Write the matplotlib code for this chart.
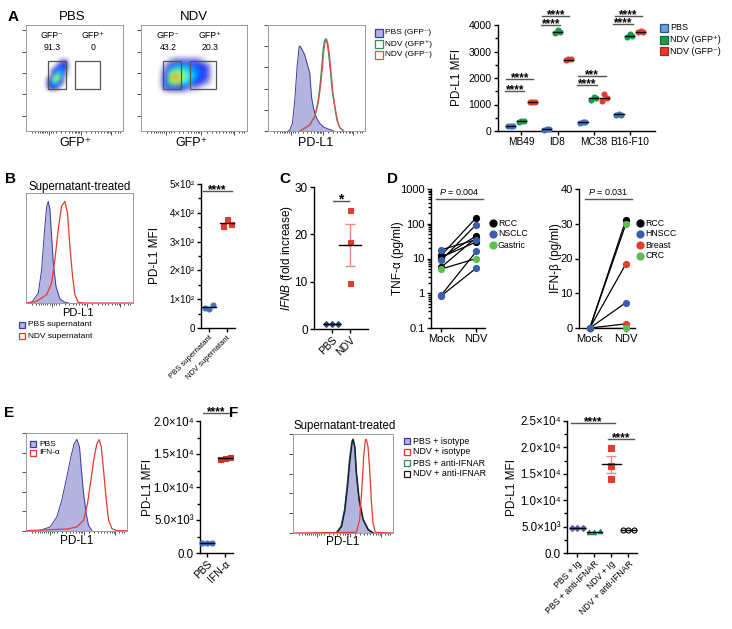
import numpy as np
import matplotlib
matplotlib.use('Agg')
import matplotlib.pyplot as plt
from matplotlib.patches import Rectangle
from matplotlib.colors import Normalize
from matplotlib.ticker import FixedLocator, MultipleLocator, NullFormatter, LogLocator

plt.rcParams['font.family'] = ['Liberation Sans', 'DejaVu Sans']
plt.rcParams['mathtext.fontset'] = 'custom'
plt.rcParams['mathtext.rm'] = 'Liberation Sans'
plt.rcParams['mathtext.it'] = 'Liberation Sans:italic'

# ======================= DATA =======================
# A: flow dot-plot densities (rows bottom -> top)
pbs_flow_density = [
    [0, 0, 0, 0, 0, 0, 0],
    [0, 1, 1.5, 1, 0, 0, 0],
    [0, 1.5, 3.5, 3, 1, 0, 0],
    [0, 1, 4.5, 6.5, 2.5, 0, 0],
    [0, 0, 2.5, 4.5, 3, 0.5, 0],
    [0, 0, 1, 2.5, 2.5, 1, 0],
    [0, 0, 0, 1, 2, 1.5, 0],
    [0, 0, 0, 0, 1, 1, 0],
    [0, 0, 0, 0, 0, 0, 0],
]
ndv_flow_density = [
    [0, 0, 0, 0, 0, 0, 0, 0, 0, 0, 0, 0],
    [0, 1, 2, 2, 1.5, 1, 0.5, 0.5, 0, 0, 0, 0],
    [0, 2, 4.5, 6, 4.5, 3.5, 2.5, 1.5, 1, 0.5, 0, 0],
    [0, 2, 6, 8, 6, 4.5, 3.5, 2.5, 1.5, 1, 0, 0],
    [0, 1, 4, 5.5, 5, 4, 3, 2.5, 2, 1, 0, 0],
    [0, 0.5, 2, 3, 3, 3, 2.5, 2, 1.5, 1, 0, 0],
    [0, 0, 0.5, 1, 1, 1, 1, 1, 0.5, 0, 0, 0],
    [0, 0, 0, 0, 0, 0, 0, 0, 0, 0, 0, 0],
]
pbs_gate_labels = ['GFP\u207b', 'GFP\u207a']
pbs_gate_pct = ['91.3', '0']
ndv_gate_labels = ['GFP\u207b', 'GFP\u207a']
ndv_gate_pct = ['43.2', '20.3']

# A: histogram (x, y as fraction of axis)
a_pbs_x = [0.207, 0.224, 0.252, 0.276, 0.300, 0.321, 0.328, 0.345, 0.362, 0.379, 0.403,
           0.431, 0.448, 0.466, 0.483, 0.510, 0.534, 0.569, 0.603, 0.672]
a_pbs_y = [0.0, 0.009, 0.072, 0.292, 0.607, 0.796, 0.802, 0.780, 0.748, 0.717, 0.638,
           0.544, 0.324, 0.230, 0.167, 0.104, 0.072, 0.041, 0.025, 0.003]
a_ndvneg_x = [0.328, 0.362, 0.431, 0.483, 0.517, 0.541, 0.562, 0.576, 0.590, 0.603, 0.617,
              0.631, 0.648, 0.666, 0.690, 0.714, 0.741, 0.776]
a_ndvneg_y = [0.0, 0.016, 0.057, 0.135, 0.261, 0.418, 0.607, 0.764, 0.843, 0.865, 0.827,
              0.733, 0.575, 0.387, 0.230, 0.104, 0.031, 0.003]
a_ndvpos_x = [0.330, 0.362, 0.431, 0.483, 0.514, 0.536, 0.556, 0.570, 0.584, 0.596, 0.610,
              0.625, 0.643, 0.662, 0.688, 0.712, 0.740, 0.776]
a_ndvpos_y = [0.0, 0.016, 0.060, 0.140, 0.270, 0.430, 0.620, 0.780, 0.855, 0.870, 0.830,
              0.730, 0.570, 0.380, 0.225, 0.100, 0.030, 0.003]

# A: scatter
a_cells = ['MB49', 'ID8', 'MC38', 'B16-F10']
a_pbs = [[170, 185, 180], [50, 70, 60], [320, 340, 330], [610, 640, 620]]
a_gfp_pos = [[350, 380, 370], [3700, 3800, 3750], [1180, 1280, 1230], [3550, 3650, 3600]]
a_gfp_neg = [[1090, 1110, 1100], [2680, 2710, 2700], [1150, 1380, 1230], [3720, 3780, 3750]]
a_sig_low = [1500, 4000, 1740, 4040]
a_sig_high = [1970, 4350, 2080, 4350]
a_sig_low_txt = ['****', '****', '****', '****']
a_sig_high_txt = ['****', '****', '***', '****']

# B
b_hist_pbs_x = [0.0, 0.053, 0.115, 0.146, 0.171, 0.193, 0.208, 0.224, 0.239, 0.255, 0.280, 0.317, 0.363, 0.40]
b_hist_pbs_y = [0.0, 0.006, 0.091, 0.303, 0.636, 0.879, 0.924, 0.848, 0.606, 0.364, 0.152, 0.036, 0.006, 0.0]
b_hist_ndv_x = [0.0, 0.099, 0.193, 0.239, 0.270, 0.301, 0.332, 0.363, 0.388, 0.410, 0.435, 0.457, 0.488, 0.534, 1.0]
b_hist_ndv_y = [0.0, 0.015, 0.076, 0.182, 0.394, 0.667, 0.879, 0.924, 0.818, 0.515, 0.242, 0.076, 0.006, 0.0, 0.0]
b_groups = ['PBS supernatant', 'NDV supernatant']
b_pbs = [70, 65, 80]
b_ndv = [378, 355, 360]

# C
c_groups = ['PBS', 'NDV']
c_pbs = [1.0, 1.0, 1.0]
c_ndv = [25.2, 18.3, 9.8]

# D
tnf_type = ['RCC', 'RCC', 'RCC', 'RCC', 'NSCLC', 'NSCLC', 'NSCLC', 'NSCLC', 'Gastric']
tnf_mock = [12.5, 10.5, 5.7, 11.0, 18.0, 9.0, 0.9, 0.85, 5.0]
tnf_ndv = [150, 45, 40, 30, 35, 95, 16, 5.3, 10]
ifnb_type = ['RCC', 'CRC', 'Breast', 'Breast', 'CRC', 'HNSCC']
ifnb_mock = [0, 0, 0, 0, 0, 0]
ifnb_ndv = [31.2, 30.0, 18.5, 1.2, 0.0, 7.3]

# E
e_hist_pbs_x = [0.139, 0.238, 0.305, 0.354, 0.404, 0.444, 0.477, 0.503, 0.530, 0.546, 0.570, 0.596, 0.619, 0.652]
e_hist_pbs_y = [0.007, 0.041, 0.143, 0.313, 0.551, 0.755, 0.891, 0.935, 0.857, 0.653, 0.381, 0.177, 0.058, 0.007]
e_hist_ifn_x = [0.0, 0.238, 0.404, 0.503, 0.570, 0.609, 0.642, 0.675, 0.702, 0.725, 0.745, 0.768, 0.795, 0.818, 0.851, 0.901, 1.0]
e_hist_ifn_y = [0.003, 0.014, 0.020, 0.041, 0.109, 0.279, 0.517, 0.755, 0.891, 0.932, 0.857, 0.619, 0.313, 0.109, 0.024, 0.003, 0.003]
e_groups = ['PBS', 'IFN-\u03b1']
e_pbs = [1450, 1500, 1550]
e_ifn = [14200, 14400, 14600]

# F
f_hist_iso_x = [0.433, 0.483, 0.517, 0.543, 0.567, 0.590, 0.600, 0.617, 0.633, 0.660, 0.700, 0.750, 0.800]
f_hist_iso_y = [0.0, 0.067, 0.235, 0.470, 0.738, 0.923, 0.946, 0.872, 0.604, 0.336, 0.134, 0.034, 0.0]
f_hist_ndviso_x = [0.0, 0.633, 0.667, 0.690, 0.707, 0.723, 0.733, 0.750, 0.767, 0.783, 0.800, 0.823, 1.0]
f_hist_ndviso_y = [0.0, 0.007, 0.134, 0.470, 0.772, 0.940, 0.946, 0.872, 0.638, 0.336, 0.101, 0.007, 0.0]
f_hist_pbsanti_x = [0.430, 0.480, 0.515, 0.541, 0.565, 0.588, 0.598, 0.615, 0.632, 0.660, 0.700, 0.750, 0.800]
f_hist_pbsanti_y = [0.0, 0.070, 0.240, 0.480, 0.745, 0.925, 0.948, 0.870, 0.600, 0.330, 0.130, 0.032, 0.0]
f_hist_ndvanti_x = [0.436, 0.486, 0.519, 0.545, 0.569, 0.592, 0.602, 0.619, 0.635, 0.662, 0.702, 0.752, 0.802]
f_hist_ndvanti_y = [0.0, 0.066, 0.232, 0.466, 0.735, 0.920, 0.944, 0.870, 0.606, 0.340, 0.138, 0.036, 0.0]
f_groups = ['PBS + Ig', 'PBS + anti-IFNAR', 'NDV + Ig', 'NDV + anti-IFNAR']
f_pbs_ig = [4700, 4750, 4800]
f_pbs_anti = [4000, 4050, 4100]
f_ndv_ig = [19800, 16500, 14000]
f_ndv_anti = [4400, 4420, 4450]

# ======================= STYLE =======================
W, H = 732, 629
fig = plt.figure(figsize=(W / 100, H / 100), dpi=100)
fig.patch.set_facecolor('white')

BLUE = '#3d74c0'
LBLUE = '#6c9fdc'
GREEN = '#1f9a4c'
RED = '#e53b2e'
HFILL = '#b4b4e0'
HEDGE = '#3c3c9c'
GRAYSP = '#9a9a9a'
DBLUE = '#3a5dae'
DGREEN = '#5cbf4f'


def px_axes(x0, y0, x1, y1, **kw):
    return fig.add_axes([x0 / W, 1 - y1 / H, (x1 - x0) / W, (y1 - y0) / H], **kw)


ov = fig.add_axes([0, 0, 1, 1], zorder=20)
ov.set_xlim(0, W)
ov.set_ylim(H, 0)
ov.axis('off')


def T(x, y, s, **kw):
    kw.setdefault('ha', 'center')
    kw.setdefault('va', 'center')
    ov.text(x, y, s, **kw)


def sq(x, y, fc, ec, ms=5.5, marker='s'):
    ov.plot([x], [y], marker=marker, ms=ms, mfc=fc, mec=ec, mew=0.9, ls='none')


def frame_gray(ax, xmaj, xmin, ymaj):
    for s in ax.spines.values():
        s.set_color(GRAYSP)
        s.set_linewidth(0.7)
    ax.xaxis.set_major_locator(FixedLocator(xmaj))
    ax.xaxis.set_minor_locator(FixedLocator(xmin))
    ax.yaxis.set_major_locator(FixedLocator(ymaj))
    ax.tick_params(which='both', direction='out', color='#333333', width=0.6,
                   labelbottom=False, labelleft=False)
    ax.tick_params(which='major', length=2.8)
    ax.tick_params(which='minor', length=1.6)


FLOW_XMAJ = [24, 57, 88]
FLOW_XMIN = [6, 9, 12, 14, 16, 18, 20, 22, 26, 28, 31, 36, 40, 44, 47, 50, 52, 54, 55,
             62, 67, 71, 74, 77, 80, 83, 85, 87, 92, 95, 97]
HIST_XMAJ = [0.24, 0.57, 0.88]
HIST_XMIN = [x / 100 for x in FLOW_XMIN]


def prism(ax, fs=8):
    ax.spines['top'].set_visible(False)
    ax.spines['right'].set_visible(False)
    for s in ('left', 'bottom'):
        ax.spines[s].set_linewidth(1.0)
    ax.tick_params(which='both', direction='out', width=1.0, labelsize=fs, pad=1.5)
    ax.tick_params(which='major', length=3)
    ax.tick_params(which='minor', length=2)
    ax.patch.set_alpha(0)


def triplet(ax, x, vals, color, marker='o', offs=(-0.2, 0, 0.2), ms=3.6, mfc=None,
            halfw=0.35, sem=False, ecolor=None):
    if sem:
        m = np.mean(vals)
        s = np.std(vals, ddof=1) / np.sqrt(len(vals))
        ax.errorbar([x], [m], yerr=[s], color=ecolor, capsize=3.5, lw=1.0, capthick=1.0,
                    zorder=2, clip_on=False)
    for o, v in zip(offs, vals):
        ax.plot([x + o], [v], marker=marker, ls='none', ms=ms,
                mfc=(color if mfc is None else mfc), mec=color, mew=0.8, zorder=3, clip_on=False)
    m = np.mean(vals)
    ax.plot([x - halfw, x + halfw], [m, m], color='k', lw=1.0, zorder=4, clip_on=False)


def sig(ax, x0, x1, y, txt, fs=9, off=-1.5, lw=1.0, color='#555555'):
    ax.plot([x0, x1], [y, y], color=color, lw=lw, clip_on=False)
    ax.annotate(txt, ((x0 + x1) / 2, y), xytext=(0, off), textcoords='offset points',
                ha='center', va='baseline', fontsize=fs, fontweight='bold',
                annotation_clip=False)


flow_cmap = plt.get_cmap('jet')
flow_norm = Normalize(0, 10)


def density_rgba(grid):
    d = np.array(grid, float)
    rgba = flow_cmap(flow_norm(d))
    rgba[..., 3] = np.clip(d / 1.5, 0, 1) * 0.95
    return rgba


# ======================= PANEL A =======================
T(13, 17, 'A', fontsize=11, fontweight='bold')
axP = px_axes(26, 25, 123, 131)
axN = px_axes(141, 25, 247, 131)
axP.imshow(density_rgba(pbs_flow_density), extent=(17.8, 47.2, 35, 71), origin='lower',
           interpolation='bicubic', interpolation_stage='rgba', aspect='auto')
axN.imshow(density_rgba(ndv_flow_density), extent=(15, 75, 33, 73), origin='lower',
           interpolation='bicubic', interpolation_stage='rgba', aspect='auto')
for ax in (axP, axN):
    ax.set_xlim(0, 100)
    ax.set_ylim(0, 100)
    frame_gray(ax, FLOW_XMAJ, FLOW_XMIN, [14, 35, 55, 75, 95])
axP.add_patch(Rectangle((22.7, 39.6), 18.3, 26.4, fill=False, ec='#555555', lw=0.9))
axP.add_patch(Rectangle((50.5, 39.6), 25.5, 26.4, fill=False, ec='#555555', lw=0.9))
axN.add_patch(Rectangle((20.8, 39.6), 16.9, 26.4, fill=False, ec='#555555', lw=0.9))
axN.add_patch(Rectangle((46.2, 39.6), 24.6, 26.4, fill=False, ec='#555555', lw=0.9))
T(72, 17, 'PBS', fontsize=9.5)
T(194, 17, 'NDV', fontsize=9.5)
for (x, lab, pct) in zip([52, 93], pbs_gate_labels, pbs_gate_pct):
    T(x, 35, lab, fontsize=6.3)
    T(x, 47, pct, fontsize=6.3)
for (x, lab, pct) in zip([168, 210], ndv_gate_labels, ndv_gate_pct):
    T(x, 35, lab, fontsize=6.3)
    T(x, 47, pct, fontsize=6.3)
T(76, 143, 'GFP\u207a', fontsize=9)
T(192, 143, 'GFP\u207a', fontsize=9)

axH = px_axes(268, 25, 365, 131)
axH.fill_between(a_pbs_x, a_pbs_y, color=HFILL, lw=0)
axH.plot(a_pbs_x, a_pbs_y, color=HEDGE, lw=0.7)
axH.plot(a_ndvpos_x, a_ndvpos_y, color='#2e8b57', lw=0.9)
axH.plot(a_ndvneg_x, a_ndvneg_y, color='#d9534f', lw=0.9)
axH.set_xlim(0, 1)
axH.set_ylim(0, 1)
frame_gray(axH, HIST_XMAJ, HIST_XMIN, [0, 0.2, 0.4, 0.6, 0.8, 1.0])
T(316, 143, 'PD-L1', fontsize=9)
sq(379, 33, HFILL, HEDGE)
sq(379, 44, 'white', '#2e8b57')
sq(379, 55, 'white', '#d9534f')
T(385, 33, 'PBS (GFP\u207b)', fontsize=6, ha='left')
T(385, 44, 'NDV (GFP\u207a)', fontsize=6, ha='left')
T(385, 55, 'NDV (GFP\u207b)', fontsize=6, ha='left')

axA = px_axes(498, 25, 655, 131)
prism(axA, fs=7.5)
axA.set_xlim(-0.65, 3.7)
axA.set_ylim(0, 4000)
axA.yaxis.set_major_locator(MultipleLocator(1000))
axA.yaxis.set_minor_locator(MultipleLocator(500))
axA.set_xticks(range(len(a_cells)))
axA.set_xticklabels(a_cells, fontsize=7.3)
for g in range(len(a_cells)):
    triplet(axA, g - 0.3, a_pbs[g], BLUE, offs=(-0.07, 0, 0.07), halfw=0.13)
    triplet(axA, g, a_gfp_pos[g], GREEN, offs=(-0.07, 0, 0.07), halfw=0.13)
    triplet(axA, g + 0.3, a_gfp_neg[g], RED, offs=(-0.07, 0, 0.07), halfw=0.13)
    sig(axA, g - 0.45, g + 0.08, a_sig_low[g], a_sig_low_txt[g], fs=8.5)
    sig(axA, g - 0.42, g + 0.33, a_sig_high[g], a_sig_high_txt[g], fs=8.5)
T(457, 78, 'PD-L1 MFI', fontsize=8.5, rotation=90)
sq(664, 28, LBLUE, '#2b4f86')
sq(664, 40, GREEN, '#146b34')
sq(664, 51, RED, '#a02820')
T(670, 28, 'PBS', fontsize=6.5, ha='left')
T(670, 40, 'NDV (GFP\u207a)', fontsize=6.5, ha='left')
T(670, 51, 'NDV (GFP\u207b)', fontsize=6.5, ha='left')

# ======================= PANEL B =======================
T(10, 179, 'B', fontsize=11, fontweight='bold')
T(80, 187, 'Supernatant-treated', fontsize=8.3)
axB1 = px_axes(26, 193, 133, 303)
axB1.fill_between(b_hist_pbs_x, b_hist_pbs_y, color=HFILL, lw=0)
axB1.plot(b_hist_pbs_x, b_hist_pbs_y, color=HEDGE, lw=0.7)
axB1.plot(b_hist_ndv_x, b_hist_ndv_y, color=RED, lw=0.9)
axB1.set_xlim(0, 1)
axB1.set_ylim(0, 1)
frame_gray(axB1, HIST_XMAJ, HIST_XMIN, [])
T(78, 313, 'PD-L1', fontsize=8)
sq(22, 325, HFILL, HEDGE, ms=5)
sq(22, 336, 'white', RED, ms=5)
T(28, 325, 'PBS supernatant', fontsize=6, ha='left')
T(28, 336, 'NDV supernatant', fontsize=6, ha='left')

axB2 = px_axes(201, 184, 235, 328)
prism(axB2, fs=7)
axB2.set_xlim(-0.45, 1.45)
axB2.set_ylim(0, 500)
axB2.yaxis.set_major_locator(FixedLocator([0, 100, 200, 300, 400, 500]))
axB2.set_yticklabels(['0', '1\u00d710\u00b2', '2\u00d710\u00b2', '3\u00d710\u00b2', '4\u00d710\u00b2', '5\u00d710\u00b2'])
axB2.yaxis.set_minor_locator(MultipleLocator(50))
axB2.set_xticks([0, 1])
axB2.set_xticklabels(b_groups, rotation=45, ha='right', rotation_mode='anchor', fontsize=5.5)
triplet(axB2, 0, b_pbs, BLUE, offs=(-0.22, 0, 0.22), halfw=0.38)
triplet(axB2, 1, b_ndv, RED, marker='s', offs=(0, -0.22, 0.22), halfw=0.38)
sig(axB2, -0.34, 1.28, 476, '****', fs=8.5)
T(155, 256, 'PD-L1 MFI', fontsize=8.5, rotation=90)

# ======================= PANEL C =======================
T(285, 179, 'C', fontsize=11, fontweight='bold')
axC = px_axes(314, 187, 368, 329)
prism(axC, fs=8.5)
axC.set_xlim(-1, 2)
axC.set_ylim(0, 30)
axC.yaxis.set_major_locator(MultipleLocator(10))
axC.set_xticks([0, 1])
axC.set_xticklabels(c_groups, rotation=45, ha='right', rotation_mode='anchor', fontsize=7.5)
triplet(axC, 0, c_pbs, '#2c4a7a', marker='D', ms=3, offs=(-0.32, 0, 0.32), halfw=0.45)
triplet(axC, 1, c_ndv, RED, marker='s', ms=3.6, offs=(0, 0, 0), halfw=0.6, sem=True, ecolor='#ec8a84')
sig(axC, 0.06, 0.94, 27, '*', fs=10)
T(287, 258, r'$\it{IFNB}$ (fold increase)', fontsize=8.5, rotation=90)

# ======================= PANEL D =======================
T(392, 179, 'D', fontsize=11, fontweight='bold')
dcol = {'RCC': 'black', 'NSCLC': DBLUE, 'HNSCC': DBLUE, 'Gastric': DGREEN, 'CRC': DGREEN, 'Breast': RED}
axD1 = px_axes(431, 189, 485, 328)
prism(axD1, fs=8)
axD1.set_yscale('log')
axD1.set_ylim(0.1, 1000)
axD1.set_xlim(-0.3, 1.25)
axD1.yaxis.set_major_locator(FixedLocator([0.1, 1, 10, 100, 1000]))
axD1.set_yticklabels(['0.1', '1', '10', '100', '1000'])
axD1.yaxis.set_minor_locator(LogLocator(base=10, subs=np.arange(2, 10)))
axD1.yaxis.set_minor_formatter(NullFormatter())
axD1.set_xticks([0, 1])
axD1.set_xticklabels(['Mock', 'NDV'], fontsize=8)
for t, m, n in zip(tnf_type, tnf_mock, tnf_ndv):
    axD1.plot([0, 1], [m, n], color='black', lw=0.9, zorder=2)
for t, m, n in zip(tnf_type, tnf_mock, tnf_ndv):
    axD1.plot([0, 1], [m, n], marker='o', ls='none', ms=4.2, color=dcol[t], zorder=3, clip_on=False)
axD1.plot([-0.156, 1.19], [515, 515], color='#555555', lw=1.0, clip_on=False)
axD1.annotate(r'$\it{P}$ = 0.004', (0.52, 515), xytext=(0, 1.5), textcoords='offset points',
              ha='center', va='bottom', fontsize=6.5, annotation_clip=False)
T(398, 258, 'TNF-\u03b1 (pg/ml)', fontsize=8.5, rotation=90)
for i, lab in enumerate(['RCC', 'NSCLC', 'Gastric']):
    sq(493, 223 + 11 * i, dcol[lab], dcol[lab], ms=5, marker='o')
    T(498, 223 + 11 * i, lab, fontsize=6.3, ha='left')

axD2 = px_axes(579, 189, 635, 328)
prism(axD2, fs=8)
axD2.set_ylim(0, 40)
axD2.set_xlim(-0.3, 1.25)
axD2.yaxis.set_major_locator(MultipleLocator(10))
axD2.set_xticks([0, 1])
axD2.set_xticklabels(['Mock', 'NDV'], fontsize=8)
for t, m, n in zip(ifnb_type, ifnb_mock, ifnb_ndv):
    axD2.plot([0, 1], [m, n], color='black', lw=0.9, zorder=2)
for t, m, n in zip(ifnb_type, ifnb_mock, ifnb_ndv):
    axD2.plot([0, 1], [m, n], marker='o', ls='none', ms=4.2, color=dcol[t], zorder=3, clip_on=False)
axD2.plot([-0.133, 1.17], [37.1, 37.1], color='#555555', lw=1.0, clip_on=False)
axD2.annotate(r'$\it{P}$ = 0.031', (0.5, 37.1), xytext=(0, 1.5), textcoords='offset points',
              ha='center', va='bottom', fontsize=6.5, annotation_clip=False)
T(556, 258, 'IFN-\u03b2 (pg/ml)', fontsize=8.5, rotation=90)
for i, lab in enumerate(['RCC', 'HNSCC', 'Breast', 'CRC']):
    sq(640, 223 + 11 * i, dcol[lab], dcol[lab], ms=5, marker='o')
    T(645, 223 + 11 * i, lab, fontsize=6.3, ha='left')

# ======================= PANEL E =======================
T(9, 413, 'E', fontsize=11, fontweight='bold')
axE1 = px_axes(26, 433, 127, 531)
axE1.fill_between(e_hist_pbs_x, e_hist_pbs_y, color=HFILL, lw=0)
axE1.plot(e_hist_pbs_x, e_hist_pbs_y, color=HEDGE, lw=0.7)
axE1.plot(e_hist_ifn_x, e_hist_ifn_y, color=RED, lw=0.9)
axE1.set_xlim(0, 1)
axE1.set_ylim(0, 1)
frame_gray(axE1, HIST_XMAJ, HIST_XMIN, [0, 0.2, 0.4, 0.6, 0.8, 1.0])
T(77, 541, 'PD-L1', fontsize=8.5)
sq(33, 444, HFILL, HEDGE, ms=5)
sq(33, 453, 'white', RED, ms=5)
T(39, 444, 'PBS', fontsize=6, ha='left')
T(39, 453, 'IFN-\u03b1', fontsize=6, ha='left')

axE2 = px_axes(200, 421, 233, 553)
prism(axE2, fs=8.3)
axE2.set_xlim(-0.4, 1.45)
axE2.set_ylim(0, 20000)
axE2.yaxis.set_major_locator(FixedLocator([0, 5000, 10000, 15000, 20000]))
axE2.set_yticklabels(['0.0', '5.0\u00d710\u00b3', '1.0\u00d710\u2074', '1.5\u00d710\u2074', '2.0\u00d710\u2074'])
axE2.yaxis.set_minor_locator(MultipleLocator(2500))
axE2.set_xticks([0, 1])
axE2.set_xticklabels(e_groups, rotation=45, ha='right', rotation_mode='anchor', fontsize=7.5)
triplet(axE2, 0, e_pbs, BLUE, offs=(-0.3, 0, 0.3), halfw=0.4)
triplet(axE2, 1, e_ifn, '#c8352b', marker='s', offs=(-0.3, 0, 0.3), halfw=0.4)
sig(axE2, -0.23, 1.29, 21200, '****', fs=8.5)
T(148, 487, 'PD-L1 MFI', fontsize=8.5, rotation=90)

# ======================= PANEL F =======================
T(234, 413, 'F', fontsize=11, fontweight='bold')
T(345, 426, 'Supernatant-treated', fontsize=8.3)
axF1 = px_axes(293, 434, 393, 533)
axF1.fill_between(f_hist_iso_x, f_hist_iso_y, color=HFILL, lw=0)
axF1.plot(f_hist_iso_x, f_hist_iso_y, color=HEDGE, lw=0.7)
axF1.plot(f_hist_pbsanti_x, f_hist_pbsanti_y, color='#2e8b57', lw=0.9)
axF1.plot(f_hist_ndvanti_x, f_hist_ndvanti_y, color='#1a1a2e', lw=1.0)
axF1.plot(f_hist_ndviso_x, f_hist_ndviso_y, color=RED, lw=0.9)
axF1.set_xlim(0, 1)
axF1.set_ylim(0, 1)
frame_gray(axF1, HIST_XMAJ, HIST_XMIN, [0, 0.2, 0.4, 0.6, 0.8, 1.0])
T(343, 542, 'PD-L1', fontsize=8.5)
leg_f = [('PBS + isotype', HFILL, HEDGE), ('NDV + isotype', 'white', RED),
         ('PBS + anti-IFNAR', 'white', '#2e8b57'), ('NDV + anti-IFNAR', 'white', '#1a1a1a')]
for i, (lab, fc, ec) in enumerate(leg_f):
    sq(407, 441 + 11 * i, fc, ec, ms=5)
    T(413, 441 + 11 * i, lab, fontsize=6.4, ha='left')

axF2 = px_axes(567, 421, 637, 553)
prism(axF2, fs=8.3)
axF2.set_xlim(-0.6, 3.5)
axF2.set_ylim(0, 25000)
axF2.yaxis.set_major_locator(FixedLocator([0, 5000, 10000, 15000, 20000, 25000]))
axF2.set_yticklabels(['0.0', '5.0\u00d710\u00b3', '1.0\u00d710\u2074', '1.5\u00d710\u2074',
                      '2.0\u00d710\u2074', '2.5\u00d710\u2074'])
axF2.yaxis.set_minor_locator(MultipleLocator(2500))
axF2.set_xticks([0, 1, 2, 3])
axF2.set_xticklabels(f_groups, rotation=45, ha='right', rotation_mode='anchor', fontsize=6.3)
triplet(axF2, 0, f_pbs_ig, '#5660a8', marker='D', ms=3, offs=(-0.33, 0, 0.33), halfw=0.45)
triplet(axF2, 1, f_pbs_anti, '#1f8a50', marker='^', ms=3.2, offs=(-0.33, 0, 0.33), halfw=0.45)
triplet(axF2, 2, f_ndv_ig, RED, marker='s', ms=3.8, offs=(0, 0, 0), halfw=0.55, sem=True, ecolor='#ec8a84')
triplet(axF2, 3, f_ndv_anti, 'black', marker='o', ms=3.6, mfc='white', offs=(-0.33, 0, 0.33), halfw=0.45)
sig(axF2, -0.37, 2.21, 24600, '****', fs=8.5)
sig(axF2, 1.8, 3.32, 21600, '****', fs=8.5)
T(512, 487, 'PD-L1 MFI', fontsize=8.5, rotation=90)

fig.savefig('out.png', dpi=100)
